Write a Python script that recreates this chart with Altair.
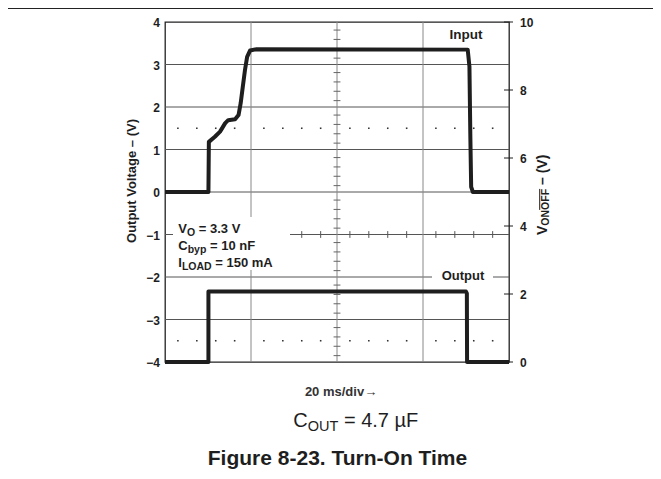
import altair as alt
import pandas as pd

# ---- data ----
# Output voltage trace (left axis, V) vs time (ms)
out_t = [0, 10.1, 10.2, 11.6, 12.8, 14.0, 14.7, 16.3, 17.1, 17.6, 18.1, 18.6, 19.1, 19.8, 21.3, 70.4, 70.8, 71.0, 71.2, 71.6, 80]
out_v = [0, 0, 1.18, 1.30, 1.42, 1.62, 1.69, 1.71, 1.81, 2.09, 2.48, 2.87, 3.18, 3.33, 3.36, 3.35, 2.95, 1.38, 0.12, 0, 0]
# ON/OFF trace (right axis, V) vs time (ms)
in_t = [0, 10.1, 10.1, 70.0, 70.2, 70.25, 80]
in_v = [0, 0, 2.07, 2.07, 2.02, 0, 0]

left_ticks = [-4, -3, -2, -1, 0, 1, 2, 3, 4]
right_ticks = [0, 2, 4, 6, 8, 10]
x_grid = [20, 40, 60]
y_grid = [-3, -2, -1, 0, 1, 2, 3]
x_divs = [0, 20, 40, 60]
y_divs = [-4, -3, -2, -1, 0, 1, 2, 3]
minor_frac = [0.15, 0.37, 0.59, 0.81]
dot_rows = [1.5, -3.5]

PW, PH = 344, 340
FONT = "Liberation Sans"
INK = "#1e1e1e"
X_MIN, X_MAX = 0, 80

# right axis (0..10) mapped onto the left axis (-4..4)
def r2l(v):
    return v * 0.8 - 4

# ---- tables ----
out_df = pd.DataFrame({"t": out_t, "v": out_v, "i": range(len(out_t))})
in_df = pd.DataFrame({"t": in_t, "v": [r2l(v) for v in in_v], "i": range(len(in_t))})
xg_df = pd.DataFrame({"x": x_grid})
yg_df = pd.DataFrame({"y": y_grid})
minor_x = [d + f * 20 for d in x_divs for f in minor_frac]
minor_y = [d + f * 1 for d in y_divs for f in minor_frac]
dots_df = pd.DataFrame([{"x": x, "y": r} for r in dot_rows for x in minor_x])
htick_df = pd.DataFrame({"y": minor_y, "x0": 40 - 0.8, "x1": 40 + 0.8})
vtick_df = pd.DataFrame({"x": minor_x, "y0": -1 - 0.08, "y1": -1 + 0.08})
rtick_df = pd.DataFrame({"y": [r2l(v) for v in right_ticks],
                         "lab": [str(v) for v in right_ticks],
                         "x": X_MAX, "x0": X_MAX - 5 / 4.3, "x1": X_MAX + 4 / 4.3})
ltick_df = pd.DataFrame({"y": left_ticks, "x": X_MIN,
                         "lab": [str(v).replace("-", "\u2212") for v in left_ticks]})

xs = alt.Scale(domain=[X_MIN, X_MAX], nice=False)
yls = alt.Scale(domain=[-4, 4], nice=False)
one = alt.Data(values=[{"a": 1}])

# Arial-metric widths (per em)
BW = {"V": .667, "C": .722, "I": .278, "O": .778, "b": .611, "y": .556, "p": .611,
      "L": .611, "A": .722, "D": .722, " ": .278, "U": .722, "T": .611, "N": .722, "F": .611}
def w(s, size):
    return sum(BW.get(c, .556) for c in s) * size

def txt(s, x, y, size, bold=True, align="left", angle=0, color=INK):
    return alt.Chart(one).mark_text(
        text=s, font=FONT, fontSize=size, fontWeight="bold" if bold else "normal",
        align=align, baseline="alphabetic", angle=angle, color=color
    ).encode(x=alt.value(x), y=alt.value(y))

def box(x, x2, y, y2):
    return alt.Chart(one).mark_rect(color="white").encode(
        x=alt.value(x), x2=alt.value(x2), y=alt.value(y), y2=alt.value(y2))

X = lambda f: alt.X(f, scale=xs, axis=None)
Y = lambda f: alt.Y(f, scale=yls, axis=None)

# ---- grid and traces ----
hgrid = alt.Chart(yg_df).mark_rule(color="#555", strokeWidth=1).encode(y=Y("y:Q"))
vgrid = alt.Chart(xg_df).mark_rule(color="#888", strokeWidth=1).encode(x=X("x:Q"))
dots = alt.Chart(dots_df).mark_square(size=2.5, color="#333", opacity=1).encode(
    x=X("x:Q"), y=Y("y:Q"))
hticks = alt.Chart(htick_df).mark_rule(color="#666", strokeWidth=1).encode(
    x=X("x0:Q"), x2="x1:Q", y=Y("y:Q"))
vticks = alt.Chart(vtick_df).mark_rule(color="#555", strokeWidth=1).encode(
    x=X("x:Q"), y=Y("y0:Q"), y2="y1:Q")
out_line = alt.Chart(out_df).mark_line(color=INK, strokeWidth=4, strokeJoin="round").encode(
    x=X("t:Q"), y=Y("v:Q"), order="i:Q")
in_line = alt.Chart(in_df).mark_line(color=INK, strokeWidth=4, strokeJoin="round").encode(
    x=X("t:Q"), y=Y("v:Q"), order="i:Q")

# left axis labels
llabels = alt.Chart(ltick_df).mark_text(
    font=FONT, fontSize=12, fontWeight="bold", color=INK, align="right", baseline="middle", dx=-5, dy=1
).encode(x=X("x:Q"), y=Y("y:Q"), text="lab:N")

# right axis drawn from its own tick list
rticks = alt.Chart(rtick_df).mark_rule(color=INK, strokeWidth=1).encode(
    x=X("x0:Q"), x2="x1:Q", y=Y("y:Q"))
rlabels = alt.Chart(rtick_df).mark_text(
    font=FONT, fontSize=12, fontWeight="bold", color=INK, align="left", baseline="middle", dx=11, dy=1
).encode(x=X("x:Q"), y=Y("y:Q"), text="lab:N")

# annotation block
ax0 = 13.3
lines = [("V", "O", "= 3.3 V", 211), ("C", "byp", "= 10 nF", 228), ("I", "LOAD", "= 150 mA", 244.5)]
ann = [box(8, 125, 195, 248)]
for main, sub, rest, base in lines:
    ann.append(txt(main, ax0, base, 13))
    xs_sub = ax0 + w(main, 13)
    ann.append(txt(sub, xs_sub, base + 3, 10.5))
    ann.append(txt(rest, xs_sub + w(sub, 10.5) + w(" ", 13), base, 13))

labels = [
    txt("Input", 301, 16.5, 13.5, align="center"),
    box(267, 328, 247, 263),
    txt("Output", 298, 258, 13, align="center"),
]

left_title = txt("Output Voltage – (V)", -29, 159, 13, align="center", angle=270)

rb, sb = 381.5, 383.5
y_v = 213
y_on = y_v - w("V", 14)
y_off = y_on - w("ON", 10.5)
y_rest = y_off - w("OFF", 10.5) - w(" ", 14)
right_title = [
    txt("V", rb, y_v, 14, angle=270),
    txt("ON", sb, y_on, 10.5, angle=270),
    txt("OFF", sb, y_off, 10.5, angle=270),
    txt("– (V)", rb, y_rest, 14, angle=270),
    alt.Chart(one).mark_rule(color=INK, strokeWidth=1).encode(
        x=alt.value(sb - 8.8), y=alt.value(y_off), y2=alt.value(y_off - w("OFF", 10.5))),
]

cx = 128.3
bottom = [
    txt("20 ms/div→", 176, 374, 13, align="center", color="#333"),
    txt("C", cx, 404.7, 20, bold=False),
    txt("OUT", cx + 0.722 * 20, 409, 14.5, bold=False),
    txt("= 4.7 µF", cx + 0.722 * 20 + 2.111 * 14.5 + 0.278 * 20, 404.7, 20, bold=False),
    txt("Figure 8-23. Turn-On Time", 172.5, 443, 21, align="center"),
    alt.Chart(one).mark_rule(color="#222", strokeWidth=1.2).encode(
        x=alt.value(-157), x2=alt.value(488), y=alt.value(-13.5)),
]

chart = alt.layer(
    hgrid, vgrid, dots, hticks, vticks, *ann, *labels, out_line, in_line,
    llabels, rticks, rlabels, left_title, *right_title, *bottom
).properties(
    width=PW, height=PH,
    autosize=alt.AutoSizeParams(type="none"),
    padding={"left": 157, "top": 14, "right": 144, "bottom": 109},
    background="white",
).configure_view(stroke="#222", strokeWidth=1.3)

chart.save("out.html", embed_options={"renderer": "svg", "actions": False})
